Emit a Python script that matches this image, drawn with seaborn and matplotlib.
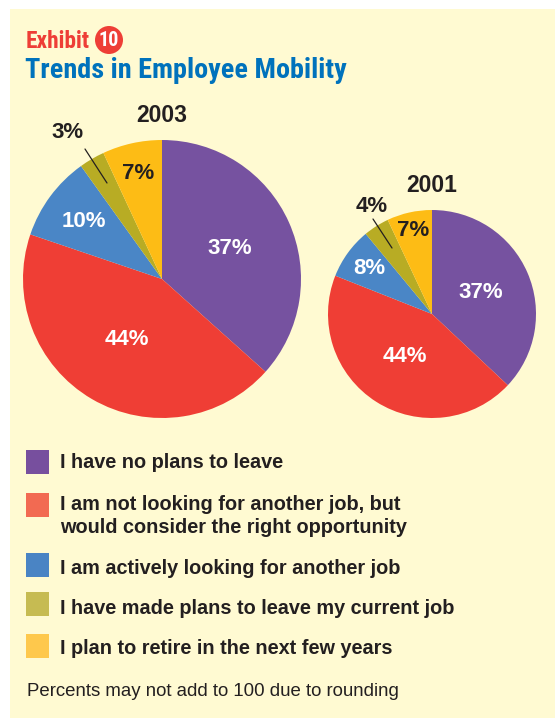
import numpy as np
import matplotlib
matplotlib.use("Agg")
import matplotlib.pyplot as plt
import seaborn as sns
from matplotlib.patches import Rectangle, Circle

sns.set_theme(style="white")
plt.rcParams["font.family"] = ["Liberation Sans", "DejaVu Sans"]

# ---- data ----
categories = [
    "I have no plans to leave",
    "I am not looking for another job, but\nwould consider the right opportunity",
    "I am actively looking for another job",
    "I have made plans to leave my current job",
    "I plan to retire in the next few years",
]
values_2003 = [37, 44, 10, 3, 7]
values_2001 = [37, 44, 8, 4, 7]
years = ["2003", "2001"]
pie_colors = ["#7652A0", "#EF3E35", "#4A86C6", "#B8AC24", "#FDBC15"]
legend_colors = ["#774F9E", "#F26A52", "#4A84C4", "#C6BB52", "#FEC84C"]
label_colors = ["white", "white", "white", "#231F20", "#231F20"]

W, H = 555, 718
fig = plt.figure(figsize=(W / 100, H / 100), dpi=100)
fig.patch.set_facecolor("white")
ax = fig.add_axes([0, 0, 1, 1])
ax.set_xlim(0, W)
ax.set_ylim(0, H)
ax.set_aspect("equal")
ax.axis("off")

def Y(y):
    return H - y

BG = "#FFFAD2"
ax.add_patch(Rectangle((10, 0), W - 10, Y(9), facecolor=BG, edgecolor="none", zorder=0))

TXT = "#231F20"
cond = ["Roboto Condensed", "DejaVu Sans"]

# header
ax.text(26, Y(41), "Exhibit", color="#EE3E36", fontsize=16.8, fontweight="bold",
        family=cond, fontstretch="condensed", va="center", ha="left")
ax.add_patch(Circle((109, Y(40)), 14, facecolor="#EE3E36", edgecolor="none", zorder=2))
ax.text(109, Y(40.5), "10", color="white", fontsize=14.5, fontweight="bold",
        family=cond, fontstretch="condensed", va="center", ha="center", zorder=3)
ax.text(25, Y(71), "Trends in Employee Mobility", color="#0072BC", fontsize=20.3,
        fontweight="bold", family=cond, fontstretch="condensed", va="center", ha="left")

def draw_pie(vals, cx, cy, r, year, dists, outside_idx, out_pos, line_pts):
    wedges, _ = ax.pie(vals, colors=pie_colors, startangle=90, counterclock=False,
                       center=(cx, Y(cy)), radius=r, normalize=True,
                       wedgeprops=dict(linewidth=0, edgecolor="none"), frame=True)
    for i, (w, v) in enumerate(zip(wedges, vals)):
        ang = np.deg2rad((w.theta1 + w.theta2) / 2)
        if i == outside_idx:
            ax.text(out_pos[0], Y(out_pos[1]), f"{v}%", color=TXT, fontsize=16,
                    fontweight="bold", ha="center", va="center")
            (x1, y1), (x2, y2) = line_pts
            ax.plot([x1, x2], [Y(y1), Y(y2)], color=TXT, lw=0.9)
            continue
        d = dists[i] * r
        ax.text(cx + d * np.cos(ang), Y(cy) + d * np.sin(ang), f"{v}%",
                color=label_colors[i], fontsize=16, fontweight="bold",
                ha="center", va="center")
    ax.text(cx, Y(cy - r - 25), year, color=TXT, fontsize=16.5, fontweight="bold",
            ha="center", va="center")

draw_pie(values_2003, 162, 279, 139, years[0], [0.53, 0.5, 0.7, 0, 0.78], 3,
         (68, 132), ((85, 149), (107, 183)))
draw_pie(values_2001, 432, 314, 104, years[1], [0.51, 0.48, 0.74, 0, 0.82], 3,
         (372, 207), ((373, 219), (392, 248)))

ax.set_xlim(0, W)
ax.set_ylim(0, H)
ax.axis("off")

# legend
sq_tops = [450, 493, 553, 592, 634]
txt_y = [463, 516, 568, 608, 648]
for c, top, ty, lab in zip(legend_colors, sq_tops, txt_y, categories):
    ax.add_patch(Rectangle((26, Y(top + 23.5)), 23, 23.5, facecolor=c, edgecolor="none"))
    ax.text(60, Y(ty), lab, color=TXT, fontsize=14.3, fontweight="bold",
            ha="left", va="center", linespacing=1.28)

ax.text(27, Y(692), "Percents may not add to 100 due to rounding", color=TXT,
        fontsize=13.4, ha="left", va="center")

fig.savefig("out.png", dpi=100, facecolor="white")
